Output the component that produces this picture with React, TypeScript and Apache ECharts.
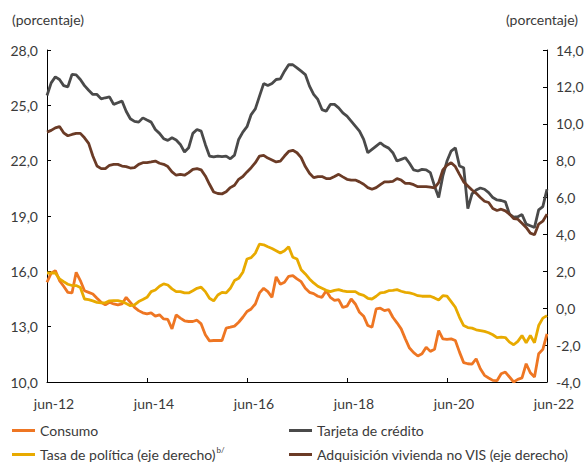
import React, { useEffect, useRef } from "react";
import * as echarts from "echarts";

const monthNames = ["ene", "feb", "mar", "abr", "may", "jun", "jul", "ago", "sep", "oct", "nov", "dic"];
const startYear = 2012;
const startMonth = 5; // jun
const nPoints = 121;

const leftTicks = { min: 10, max: 28, interval: 3 };
const rightTicks = { min: -4, max: 14, interval: 2 };

const seriesNames = [
  "Consumo",
  "Tarjeta de crédito",
  "Tasa de política (eje derecho)",
  "Adquisición vivienda no VIS (eje derecho)",
];

const consumo = [
  15.41, 15.9, 16.04, 15.5, 15.19, 14.86, 14.83, 15.95, 15.5, 14.95,
  14.86, 14.77, 14.54, 14.32, 14.18, 14.32, 14.23, 14.18, 14.23, 14.59,
  14.32, 14.05, 13.87, 13.75, 13.69, 13.75, 13.57, 13.64, 13.42, 13.39,
  12.88, 13.64, 13.46, 13.32, 13.28, 13.28, 13.35, 13.15, 12.56, 12.23,
  12.25, 12.25, 12.25, 12.92, 12.97, 13.03, 13.24, 13.51, 13.82, 13.96,
  14.23, 14.83, 15.08, 14.9, 14.59, 15.7, 15.3, 15.41, 15.73, 15.77,
  15.59, 15.44, 15.08, 14.86, 14.79, 14.65, 14.59, 14.95, 14.59, 14.43,
  14.47, 14.04, 14.11, 14.5, 14.23, 13.78, 13.57, 13.06, 12.97, 13.96,
  14.0, 13.87, 13.93, 13.51, 13.21, 12.88, 12.34, 11.84, 11.59, 11.41,
  11.53, 11.89, 11.66, 11.77, 12.79, 12.34, 12.31, 12.34, 12.25, 11.62,
  11.05, 10.99, 10.97, 11.26, 10.72, 10.36, 10.22, 10.09, 10.07, 10.45,
  10.54, 10.27, 10.0, 10.14, 10.22, 10.99, 10.5, 10.27, 11.53, 11.77,
  12.61,
];

const tarjeta = [
  25.53, 26.22, 26.54, 26.4, 26.07, 26.0, 26.68, 26.65, 26.4, 26.07,
  25.82, 25.59, 25.59, 25.35, 25.41, 25.46, 25.05, 25.14, 25.23, 24.68,
  24.27, 24.13, 24.09, 24.32, 24.2, 24.09, 23.69, 23.48, 23.19, 23.1,
  23.24, 23.12, 22.88, 22.47, 22.7, 23.48, 23.69, 23.6, 22.88, 22.25,
  22.2, 22.25, 22.22, 22.25, 22.1, 22.3, 23.15, 23.55, 23.84, 24.5,
  24.81, 25.5, 26.18, 26.07, 26.18, 26.4, 26.43, 26.85, 27.2, 27.2,
  27.03, 26.85, 26.67, 26.04, 25.59, 25.32, 24.77, 24.68, 25.05, 25.05,
  24.86, 24.59, 24.41, 24.14, 23.87, 23.6, 23.15, 22.43, 22.61, 22.79,
  22.97, 22.79, 22.68, 22.43, 21.98, 22.07, 22.16, 21.86, 21.5, 21.44,
  21.53, 21.5, 21.35, 20.63, 20.0, 21.17, 21.98, 22.52, 22.7, 21.71,
  21.62, 19.4, 20.2, 20.41, 20.52, 20.45, 20.27, 20.0, 19.87, 19.84,
  19.77, 19.1, 18.94, 18.96, 19.08, 18.56, 18.47, 18.38, 19.33, 19.51,
  20.45,
];

const tasaPolitica = [
  1.91, 1.91, 1.91, 1.59, 1.44, 1.3, 1.23, 1.23, 1.12, 0.5,
  0.47, 0.4, 0.32, 0.29, 0.29, 0.4, 0.41, 0.41, 0.36, 0.25,
  0.14, 0.18, 0.36, 0.47, 0.59, 0.9, 0.99, 1.19, 1.32, 1.26,
  1.05, 0.9, 0.9, 0.83, 0.83, 0.95, 1.08, 1.14, 0.9, 0.54,
  0.4, 0.72, 0.86, 0.83, 1.08, 1.5, 1.62, 1.95, 2.67, 2.74,
  2.99, 3.48, 3.44, 3.33, 3.24, 3.12, 2.99, 3.12, 3.33, 2.76,
  2.67, 2.09, 1.86, 1.59, 1.37, 1.19, 1.08, 0.97, 0.9, 0.97,
  1.01, 0.94, 0.9, 0.9, 0.9, 0.76, 0.7, 0.54, 0.5, 0.65,
  0.83, 0.86, 0.95, 0.97, 1.01, 0.92, 0.86, 0.83, 0.77, 0.68,
  0.65, 0.65, 0.65, 0.56, 0.45, 0.68, 0.65, 0.36, 0.05, -0.49,
  -0.94, -1.05, -1.08, -1.17, -1.21, -1.26, -1.33, -1.44, -1.59, -1.57,
  -1.59, -1.84, -1.98, -1.8, -1.48, -1.87, -1.48, -1.87, -0.94, -0.54,
  -0.4,
];

const adquisicion = [
  9.55, 9.64, 9.78, 9.85, 9.51, 9.35, 9.42, 9.48, 9.48, 9.24,
  8.94, 8.25, 7.71, 7.57, 7.57, 7.75, 7.8, 7.8, 7.71, 7.68,
  7.6, 7.62, 7.8, 7.89, 7.89, 7.93, 7.98, 7.86, 7.8, 7.68,
  7.39, 7.21, 7.26, 7.21, 7.35, 7.53, 7.57, 7.5, 7.17, 6.72,
  6.3, 6.22, 6.2, 6.31, 6.54, 6.67, 6.99, 7.14, 7.39, 7.62,
  7.89, 8.25, 8.29, 8.14, 8.04, 7.93, 7.98, 8.25, 8.5, 8.56,
  8.43, 8.16, 7.68, 7.32, 7.08, 7.14, 7.14, 7.03, 7.03, 7.14,
  7.26, 7.12, 6.99, 6.95, 6.95, 6.85, 6.72, 6.54, 6.45, 6.54,
  6.7, 6.85, 6.85, 6.88, 7.03, 6.95, 6.77, 6.77, 6.7, 6.59,
  6.59, 6.59, 6.56, 6.52, 6.81, 7.5, 7.75, 7.89, 7.68, 7.26,
  6.85, 6.63, 6.41, 6.23, 6.0, 5.8, 5.73, 5.41, 5.3, 5.37,
  5.28, 5.1, 4.86, 4.83, 4.61, 4.38, 4.07, 3.98, 4.56, 4.72,
  5.1,
];

const colors = ["#EE7623", "#4A4A4A", "#E8AA00", "#6B3B26"];

const FONT = "Lato, 'Noto Sans', sans-serif";
const TEXT = "#3a3a3a";

const categories: string[] = [];
for (let i = 0; i < nPoints; i++) {
  const mi = startMonth + i;
  const y = startYear + Math.floor(mi / 12);
  categories.push(monthNames[mi % 12] + "-" + String(y).slice(2));
}

const fmt = (v: number) => v.toFixed(1).replace(".", ",");

export default function App() {
  const ref = useRef<HTMLDivElement>(null);
  useEffect(() => {
    if (!ref.current) return;
    const chart = echarts.init(ref.current, null, { renderer: "svg" });
    const axisCommon = {
      axisLine: { show: true, onZero: false, lineStyle: { color: "#000", width: 1 } },
      axisTick: { show: true, inside: true, length: 4, lineStyle: { color: "#000" } },
      splitLine: { show: false },
    };
    const showEvery = (i: number) => i % 24 === 0;
    const legendCommon = {
      orient: "vertical",
      top: 422,
      height: 41,
      padding: 0,
      icon: "rect",
      itemWidth: 23,
      itemHeight: 3,
      itemGap: 7,
    };
    chart.setOption({
      animation: false,
      backgroundColor: "#fff",
      textStyle: { fontFamily: FONT },
      grid: { left: 47, right: 41, top: 50, bottom: 81, containLabel: false },
      graphic: [
        {
          type: "text",
          left: 12,
          top: 12,
          style: { text: "(porcentaje)", fontSize: 14, fontFamily: FONT, fill: TEXT },
        },
        {
          type: "text",
          right: 10,
          top: 12,
          style: { text: "(porcentaje)", fontSize: 14, fontFamily: FONT, fill: TEXT },
        },
      ],
      legend: [
        {
          ...legendCommon,
          data: [seriesNames[0], seriesNames[2]],
          left: 12,
          textStyle: {
            fontSize: 14, fontFamily: FONT, color: TEXT, lineHeight: 17,
            rich: {
              n: { fontSize: 14, fontFamily: FONT, color: TEXT, lineHeight: 17 },
              s: { fontSize: 8, fontFamily: FONT, color: TEXT, verticalAlign: "top", lineHeight: 17, padding: [0, 0, 6, 1] },
            },
          },
          formatter: (name: string) =>
            name === seriesNames[2] ? `{n|${name}}{s|b/}` : name,
        },
        {
          ...legendCommon,
          data: [seriesNames[1], seriesNames[3]],
          left: 289,
          textStyle: { fontSize: 14, fontFamily: FONT, color: TEXT, lineHeight: 17 },
        },
      ],
      xAxis: {
        type: "category",
        data: categories,
        boundaryGap: false,
        ...axisCommon,
        axisTick: { ...axisCommon.axisTick, interval: showEvery },
        axisLabel: {
          interval: showEvery,
          margin: 14,
          padding: [0, 0, 0, 14],
          fontSize: 14,
          fontFamily: FONT,
          color: TEXT,
        },
      },
      yAxis: [
        {
          type: "value",
          position: "left",
          min: leftTicks.min,
          max: leftTicks.max,
          interval: leftTicks.interval,
          ...axisCommon,
          axisLabel: { formatter: fmt, margin: 9, fontSize: 14, fontFamily: FONT, color: TEXT },
        },
        {
          type: "value",
          position: "right",
          min: rightTicks.min,
          max: rightTicks.max,
          interval: rightTicks.interval,
          ...axisCommon,
          axisLabel: { formatter: fmt, margin: 9, fontSize: 14, fontFamily: FONT, color: TEXT },
        },
      ],
      series: [
        { name: seriesNames[0], data: consumo, yAxisIndex: 0 },
        { name: seriesNames[1], data: tarjeta, yAxisIndex: 0 },
        { name: seriesNames[2], data: tasaPolitica, yAxisIndex: 1 },
        { name: seriesNames[3], data: adquisicion, yAxisIndex: 1 },
      ].map((s, i) => ({
        ...s,
        type: "line",
        symbol: "none",
        color: colors[i],
        lineStyle: { width: 2.8, color: colors[i] },
      })),
    });
    return () => chart.dispose();
  }, []);
  return (
    <div
      ref={ref}
      style={{ position: "fixed", left: 0, top: 0, width: 588, height: 463 }}
    />
  );
}
